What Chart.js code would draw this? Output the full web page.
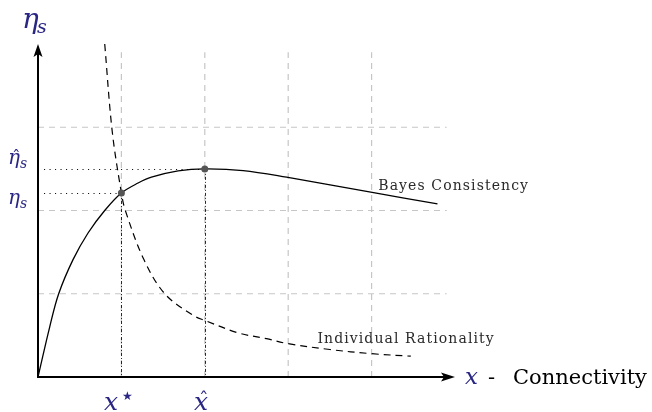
<!DOCTYPE html>
<html><head><meta charset="utf-8">
<script src="https://cdn.jsdelivr.net/npm/chart.js@4"></script>
<style>html,body{margin:0;padding:0;background:#fff}</style>
</head><body>
<canvas id="c" width="652" height="412"></canvas>
<script>
// ---- data ----
const bayesX = [0, 0.14, 0.248, 0.42, 0.6, 0.8, 1.0, 1.2, 1.36, 1.68, 2.0, 2.46, 2.98, 3.99, 4.79];
const bayesY = [0, 0.60, 1.0, 1.41, 1.73, 2.0, 2.21, 2.33, 2.40, 2.475, 2.5, 2.48, 2.40, 2.22, 2.08];
const irX = [0.80, 0.89, 1.0, 1.047, 1.27, 1.52, 1.86, 2.0, 2.4, 2.74, 3.0, 3.5, 4.0, 4.47];
const irY = [4.0, 2.95, 2.21, 2.0, 1.41, 1.0, 0.74, 0.68, 0.53, 0.46, 0.40, 0.33, 0.28, 0.25];
const markX = [1, 2];
const markY = [2.21, 2.5];
const gridX = [1, 2, 3, 4];
const gridY = [1, 2, 3];
const seriesNames = ['Bayes Consistency', 'Individual Rationality'];

const BLUE = '#2a2784';
const toPts = (xs, ys) => xs.map((x, i) => ({x, y: ys[i]}));

const decor = {
  id: 'decor',
  beforeDatasetsDraw(chart) {
    const {ctx, scales: {x, y}} = chart;
    ctx.save();
    // grid
    ctx.strokeStyle = '#c6c6c6'; ctx.lineWidth = 1.2; ctx.setLineDash([6, 5]);
    gridX.forEach(g => { ctx.beginPath(); ctx.moveTo(x.getPixelForValue(g), y.getPixelForValue(0)); ctx.lineTo(x.getPixelForValue(g), y.getPixelForValue(3.9)); ctx.stroke(); });
    gridY.forEach(g => { ctx.beginPath(); ctx.moveTo(x.getPixelForValue(0), y.getPixelForValue(g)); ctx.lineTo(x.getPixelForValue(4.9), y.getPixelForValue(g)); ctx.stroke(); });
    // dotted guides
    ctx.strokeStyle = '#111'; ctx.lineWidth = 1.1; ctx.setLineDash([1.1, 4.4]);
    markX.forEach((mx, i) => {
      const py = Math.round(y.getPixelForValue(markY[i])) + 0.5;
      ctx.beginPath(); ctx.moveTo(x.getPixelForValue(0) + 6, py); ctx.lineTo(x.getPixelForValue(mx), py); ctx.stroke();
    });
    ctx.lineWidth = 0.9; ctx.setLineDash([3, 2, 1, 2]);
    markX.forEach((mx, i) => {
      const px = Math.round(x.getPixelForValue(mx)) + 0.5;
      ctx.beginPath(); ctx.moveTo(px, y.getPixelForValue(markY[i])); ctx.lineTo(px, y.getPixelForValue(0)); ctx.stroke();
    });
    ctx.restore();
  },
  afterDatasetsDraw(chart) {
    const {ctx, scales: {x, y}} = chart;
    const x0 = x.getPixelForValue(0), y0 = y.getPixelForValue(0);
    const xe = x.getPixelForValue(5), ye = y.getPixelForValue(4);
    ctx.save();
    ctx.strokeStyle = '#000'; ctx.fillStyle = '#000'; ctx.lineWidth = 2; ctx.setLineDash([]);
    ctx.beginPath(); ctx.moveTo(x0, y0); ctx.lineTo(x0, ye + 8); ctx.stroke();
    ctx.beginPath(); ctx.moveTo(x0 - 1, y0); ctx.lineTo(xe - 8, y0); ctx.stroke();
    // arrowheads
    ctx.beginPath(); ctx.moveTo(x0, ye); ctx.lineTo(x0 - 4.5, ye + 13); ctx.lineTo(x0, ye + 10); ctx.lineTo(x0 + 4.5, ye + 13); ctx.closePath(); ctx.fill();
    ctx.beginPath(); ctx.moveTo(xe, y0); ctx.lineTo(xe - 14, y0 - 4.5); ctx.lineTo(xe - 11, y0); ctx.lineTo(xe - 14, y0 + 4.5); ctx.closePath(); ctx.fill();

    // math labels
    const it = (s) => 'italic ' + s + 'px "DejaVu Serif"';
    ctx.fillStyle = BLUE; ctx.textBaseline = 'alphabetic'; ctx.textAlign = 'left';
    // top eta_s
    ctx.font = it(28); ctx.fillText('η', 22, 28);
    ctx.font = it(19); ctx.fillText('s', 37, 33);
    // eta hat
    ctx.font = it(20); ctx.fillText('η', 8, 164);
    ctx.font = it(14); ctx.fillText('s', 20, 168);
    ctx.font = '17px "DejaVu Serif"'; ctx.fillText('ˆ', 12, 162);
    // eta
    ctx.font = it(20); ctx.fillText('η', 8, 204);
    ctx.font = it(14); ctx.fillText('s', 20, 208);
    // x star
    ctx.font = it(25); ctx.fillText('x', 104, 410);
    ctx.font = '12px "DejaVu Sans"'; ctx.fillText('★', 122, 400);
    // x hat
    ctx.font = it(25); ctx.fillText('x', 194, 410);
    ctx.font = '19px "DejaVu Serif"'; ctx.fillText('ˆ', 199, 406);
    // x - Connectivity
    ctx.font = it(23); ctx.fillText('x', 465, 384);
    ctx.fillStyle = '#000'; ctx.font = '21px "DejaVu Serif"';
    ctx.fillText('-', 488, 384);
    ctx.fillText('Connectivity', 513, 384);
    // curve labels
    ctx.fillStyle = '#2a2a2a'; ctx.font = '14px "DejaVu Serif"';
    ctx.letterSpacing = '1.1px';
    ctx.fillText(seriesNames[0], x.getPixelForValue(4.08), y.getPixelForValue(2.25));
    ctx.fillText(seriesNames[1], x.getPixelForValue(3.35), y.getPixelForValue(0.41));
    ctx.restore();
  }
};

new Chart(document.getElementById('c'), {
  type: 'scatter',
  data: {
    datasets: [
      { label: seriesNames[0], data: toPts(bayesX, bayesY), showLine: true, borderColor: '#000', borderWidth: 1.3, pointRadius: 0, tension: 0.35, order: 2 },
      { label: seriesNames[1], data: toPts(irX, irY), showLine: true, borderColor: '#000', borderWidth: 1.2, borderDash: [7, 5], pointRadius: 0, tension: 0.35, order: 2 },
      { label: 'points', data: toPts(markX, markY), showLine: false, pointRadius: 3.5, pointBackgroundColor: '#555', pointBorderWidth: 0, order: 1 }
    ]
  },
  options: {
    responsive: false, animation: false, devicePixelRatio: 1,
    layout: { padding: { left: 38, right: 197, top: 44, bottom: 35 } },
    plugins: { legend: { display: false }, tooltip: { enabled: false } },
    scales: {
      x: { type: 'linear', min: 0, max: 5, display: false },
      y: { type: 'linear', min: 0, max: 4, display: false }
    }
  },
  plugins: [decor]
});
</script>
</body></html>
